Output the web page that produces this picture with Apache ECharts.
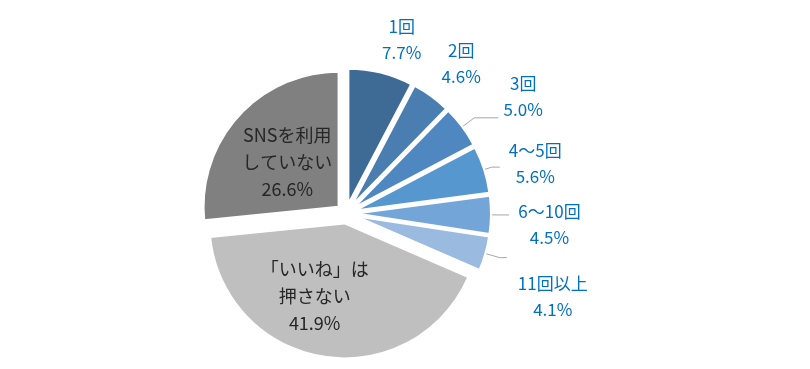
<!DOCTYPE html>
<html><head><meta charset="utf-8">
<script src="https://cdn.jsdelivr.net/npm/echarts@6/dist/echarts.min.js"></script>
<style>html,body{margin:0;padding:0;background:#fff}#c{width:810px;height:369px}</style>
</head><body><div id="c"></div>
<script>
var categories = ['1回', '2回', '3回', '4〜5回', '6〜10回', '11回以上', '「いいね」は\n押さない', 'SNSを利用\nしていない'];
var values = [7.7, 4.6, 5.0, 5.6, 4.5, 4.1, 41.9, 26.6];
var colors = ['#3E6B96', '#4A7EB0', '#4F88C0', '#5797D0', '#74A5D8', '#9BBAE0', '#BFBFBF', '#808080'];

// label styling per slice (line lengths, text box width, padding to shift text)
var outsideCfg = [
  { show: false, len: 0, len2: 4, dist: 0, w: 34, pad: [0, 0, 67, 0] },
  { show: false, len: 0, len2: 5, dist: 5, w: 40, pad: [0, 0, 65, 0] },
  { show: true, len: 15, len2: 24, dist: 5, w: 40, pad: [0, 0, 42, 0] },
  { show: true, len: 8, len2: 8, dist: 5, w: 61, pad: [0, 0, 7, 0] },
  { show: true, len: 8, len2: 10, dist: 5, w: 71, pad: [20, 0, 0, 0] },
  { show: true, len: 15, len2: 7, dist: 5, w: 82, pad: [78, 0, 0, 0] }
];
var insideShift = [null, null, null, null, null, null, [-19, 3], [1, 3]];

var font = '"Noto Sans CJK JP", "Noto Sans", sans-serif';
var data = values.map(function (v, i) {
  var item = { name: categories[i], value: v, selected: true, itemStyle: { color: colors[i] } };
  if (i >= 6) {
    item.label = { position: 'inside', color: '#262626', fontSize: 18, lineHeight: 27, align: 'center' };
    item.labelLine = { show: false };
  } else {
    var c = outsideCfg[i];
    item.label = {
      position: 'outside', color: '#0070C0', distanceToLabelLine: c.dist, padding: c.pad,
      rich: { t: { width: c.w, align: 'center', color: '#0070C0', fontFamily: font, fontSize: 17, lineHeight: 26 } }
    };
    item.labelLine = { show: c.show, length: c.len, length2: c.len2, lineStyle: { color: '#A6A6A6', width: 1 } };
  }
  return item;
});
var chart = echarts.init(document.getElementById('c'), null, { renderer: 'canvas' });
chart.setOption({
  animation: false,
  series: [{
    type: 'pie',
    center: [346, 213.5],
    radius: [0, 135],
    startAngle: 90,
    clockwise: true,
    selectedMode: 'multiple',
    selectedOffset: 10,
    avoidLabelOverlap: false,
    itemStyle: { borderColor: '#ffffff', borderWidth: 2 },
    emphasis: { disabled: true },
    label: {
      fontFamily: font, fontSize: 17,
      formatter: function (p) {
        var pct = p.value.toFixed(1) + '%';
        if (p.dataIndex >= 6) return p.name + '\n' + pct;
        return '{t|' + p.name + '}\n{t|' + pct + '}';
      }
    },
    labelLayout: function (p) {
      var s = insideShift[p.dataIndex];
      return s ? { dx: s[0], dy: s[1] } : {};
    },
    data: data
  }]
});
</script></body></html>
